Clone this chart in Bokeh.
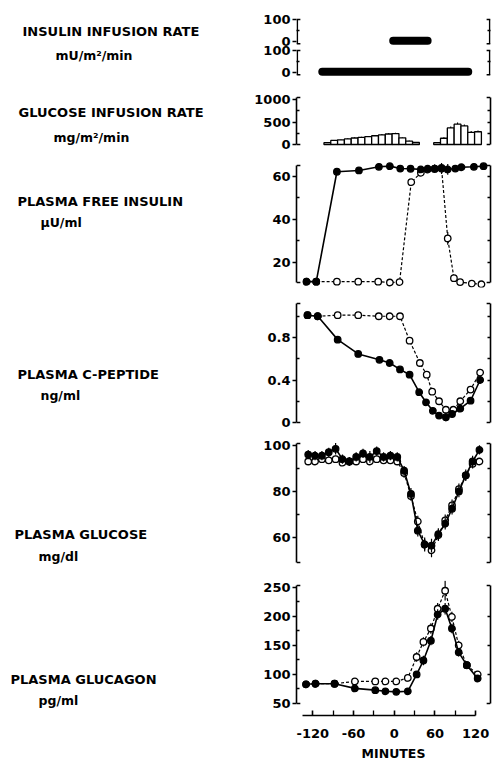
import numpy as np
from bokeh.plotting import figure
from bokeh.layouts import row, column
from bokeh.models import Range1d, LinearAxis, FixedTicker
from bokeh.embed import file_html
from bokeh.resources import INLINE
from bokeh.core.properties import value

FONT = "DejaVu Sans"

# ---------------- data ----------------
label_titles = ["INSULIN INFUSION RATE", "GLUCOSE INFUSION RATE", "PLASMA FREE INSULIN",
                "PLASMA C-PEPTIDE", "PLASMA GLUCOSE", "PLASMA GLUCAGON"]
label_units = ["mU/m²/min", "mg/m²/min", "µU/ml", "ng/ml", "mg/dl", "pg/ml"]

minutes_ticks = [-120, -60, 0, 60, 120]
minutes_minor = [-90, -30, 30, 90]
minutes_labels = ["-120", "-60", "0", "60", "120"]

# insulin infusion periods (minutes) and drawn level
ins_inf_study2 = [9, 59]
ins_inf_study1 = [-94, 118]
ins_inf_level = [3, 3]

# glucose infusion rate bars (mg/m2/min)
gir_t_a = [-89, -79, -69, -59, -49, -39, -29, -19, -9, 1, 11, 21, 31, 41]
gir_v_a = [40, 90, 105, 125, 145, 160, 175, 195, 215, 235, 245, 150, 75, 45]
gir_e_a = [10, 12, 12, 15, 15, 15, 15, 18, 18, 20, 20, 18, 12, 10]
gir_t_b = [72, 82, 92, 102, 112, 122, 132]
gir_v_b = [40, 140, 370, 455, 415, 270, 285]
gir_e_b = [10, 20, 30, 35, 30, 30, 25]

# plasma free insulin (uU/ml)
ins_t_f = [-121, -107, -77, -45, -16, 0, 15, 30, 45, 55, 65, 75, 84, 95, 104, 122, 136]
ins_v_f = [11.2, 11.2, 62.0, 62.6, 64.3, 64.6, 63.5, 63.4, 63.1, 63.4, 63.5, 63.8, 63.1, 63.5, 64.1, 64.3, 64.6]
ins_e_f = [0.5, 0.5, 1.5, 1.5, 1.5, 1.5, 1.5, 1.5, 1.5, 1.5, 2.0, 1.5, 2.5, 1.5, 1.5, 1.5, 1.5]
ins_t_o = [-121, -107, -77, -46, -17, 0, 14, 31, 45, 55, 65, 75, 84, 93, 102, 119, 133]
ins_v_o = [11.2, 11.2, 11.2, 11.2, 11.2, 10.8, 11.0, 57.2, 61.5, 63.0, 63.3, 63.5, 31.2, 12.8, 11.0, 10.3, 10.0]
ins_e_o = [0.5, 0.5, 0.8, 0.8, 0.8, 0.8, 0.8, 1.5, 1.5, 1.5, 1.5, 2.5, 3.0, 1.5, 1.0, 1.0, 1.0]

# plasma C-peptide (ng/ml)
cp_t_f = [-121, -106, -77, -47, -16, -1, 14, 28, 42, 52, 62, 71, 81, 90, 102, 117, 131]
cp_v_f = [1.01, 1.0, 0.78, 0.645, 0.59, 0.56, 0.50, 0.45, 0.285, 0.19, 0.11, 0.065, 0.05, 0.08, 0.13, 0.205, 0.40]
cp_e_f = [0.02, 0.02, 0.03, 0.03, 0.02, 0.02, 0.02, 0.03, 0.03, 0.03, 0.03, 0.03, 0.04, 0.03, 0.03, 0.03, 0.03]
cp_t_o = [-121, -106, -77, -47, -17, -1, 14, 28, 43, 53, 61, 71, 81, 92, 102, 117, 131]
cp_v_o = [1.01, 1.0, 1.01, 1.01, 1.0, 1.0, 1.0, 0.77, 0.56, 0.45, 0.29, 0.20, 0.12, 0.12, 0.20, 0.31, 0.47]
cp_e_o = [0.02, 0.02, 0.02, 0.02, 0.02, 0.02, 0.02, 0.03, 0.03, 0.03, 0.03, 0.03, 0.03, 0.03, 0.03, 0.03, 0.03]

# plasma glucose (mg/dl)
glu_t = [-120, -110, -100, -90, -80, -70, -60, -50, -40, -30, -20, -10, 0, 10,
         20, 30, 40, 50, 60, 70, 80, 90, 100, 110, 120, 130]
glu_v_f = [96, 95.5, 95.5, 97, 98.5, 94, 93, 95, 96.5, 95, 97.5, 95, 95.5, 95,
           89, 79, 63, 57, 56.5, 61.5, 66, 72.5, 80, 87, 93, 98]
glu_e_f = [2, 2, 2, 2, 2.5, 2, 2, 2, 2, 2.5, 2, 2, 2, 2,
           2, 2.5, 2.5, 3, 3, 2.5, 2.5, 2.5, 2.5, 2.5, 2.5, 2]
glu_v_o = [93, 93, 94, 93.5, 94, 92.5, 93, 93, 94, 93, 94, 93.5, 93.5, 93,
           88, 78, 67, 57, 54.5, 61, 67.5, 74, 81, 87, 92, 93]
glu_e_o = [1.5, 1.5, 1.5, 1.5, 1.5, 1.5, 1.5, 1.5, 1.5, 1.5, 1.5, 1.5, 1.5, 1.5,
           2, 2, 2.5, 2.5, 3, 2.5, 2.5, 2.5, 2.5, 2, 2, 1.5]

# plasma glucagon (pg/ml)
gcg_t = [-130, -116, -88, -58, -28, -13, 3, 20, 33, 43, 54, 64, 75, 85, 95, 107, 123]
gcg_v_f = [83, 84, 84, 76, 73, 71, 70, 71, 100, 124, 158, 203, 213, 179, 138, 116, 93]
gcg_e_f = [4, 4, 4, 5, 5, 5, 5, 5, 6, 8, 8, 9, 10, 8, 7, 6, 6]
gcg_v_o = [83, 84, 84, 88, 88, 88, 88, 94, 130, 156, 179, 213, 244, 199, 150, 116, 100]
gcg_e_o = [4, 4, 4, 5, 5, 5, 5, 6, 8, 8, 9, 10, 17, 9, 8, 7, 6]

# ---------------- geometry (page pixels) ----------------
X0 = 389.3      # page px of minute 0
PPM = 0.7097    # px per minute
COL_L = 248
COL_R = 499
PAGE_H = 763


def make_panel(fig_top, fig_bot, st, sb, vt, vb, L, R, pad_t, fb):
    k = (sb - st) / (vt - vb)
    ft = st - pad_t
    y_lo = vb - (fb - sb) / k
    y_hi = vt + pad_t / k
    p = figure(width=COL_R - COL_L, height=fig_bot - fig_top,
               x_range=Range1d((L - X0) / PPM, (R - X0) / PPM),
               y_range=Range1d(y_lo, y_hi),
               x_axis_type=None, y_axis_type=None,
               output_backend="svg", toolbar_location=None,
               min_border_left=int(L - COL_L), min_border_right=int(COL_R - R),
               min_border_top=int(ft - fig_top), min_border_bottom=int(fig_bot - fb))
    p.outline_line_color = None
    p.background_fill_color = "white"
    p.border_fill_color = "white"
    return p


def style_axis(ax):
    ax.axis_line_color = "black"
    ax.axis_line_width = 1.6
    ax.major_tick_line_color = "black"
    ax.major_tick_line_width = 1.6
    ax.minor_tick_line_color = "black"
    ax.minor_tick_line_width = 1.3
    ax.major_label_text_font = FONT
    ax.major_label_text_font_style = "bold"
    ax.major_label_text_font_size = "13px"
    ax.major_label_text_color = "black"


def add_frame(p, major, minor, rticks, spans, labels=None):
    single = len(spans) == 1
    ax = LinearAxis(ticker=FixedTicker(ticks=major, minor_ticks=minor))
    style_axis(ax)
    ax.major_tick_out = 4
    ax.major_tick_in = 0
    ax.minor_tick_out = 0
    ax.minor_tick_in = 3
    ax.major_label_standoff = 2
    if labels:
        ax.major_label_overrides = labels
    rx = LinearAxis(ticker=FixedTicker(ticks=rticks))
    style_axis(rx)
    rx.major_tick_out = 0
    rx.major_tick_in = 3
    rx.minor_tick_out = 0
    rx.minor_tick_in = 0
    rx.major_label_text_font_size = "0px"
    rx.major_label_text_color = None
    rx.major_label_standoff = 0
    if single:
        ax.bounds = spans[0]
        rx.bounds = spans[0]
    else:
        ax.axis_line_color = None
        rx.axis_line_color = None
    p.add_layout(ax, "left")
    p.add_layout(rx, "right")
    dx = 4 / PPM
    inset = 0.8 / PPM
    xa, xb = p.x_range.start, p.x_range.end
    for vb, vt in spans:
        p.segment(x0=[xa, xa, xb, xb], y0=[vb, vt, vb, vt],
                  x1=[xa + dx, xa + dx, xb - dx, xb - dx], y1=[vb, vt, vb, vt],
                  line_color="black", line_width=1.6)
        if not single:
            p.segment(x0=[xa + inset, xb - inset], y0=[vb, vb], x1=[xa + inset, xb - inset],
                      y1=[vt, vt], line_color="black", line_width=1.6)


def series(p, t, v, e, filled):
    t = np.array(t, float)
    v = np.array(v, float)
    e = np.array(e, float)
    if filled:
        p.line(t, v, line_color="black", line_width=1.6)
    else:
        p.line(t, v, line_color="black", line_width=1.2, line_dash="3 2")
    p.segment(x0=t, y0=v - e, x1=t, y1=v + e, line_color="black", line_width=1.2)
    p.scatter(t, v, size=6.5, marker="circle",
              fill_color="black" if filled else "white",
              line_color="black", line_width=1.3)


# panels A+B: insulin infusion rates (two studies), stacked in one canvas
OFF = 141   # vertical offset (rate units) of the upper strip
pAB = make_panel(0, 86, 19, 74.2, OFF + 100, -10, 296, 496, 4, 80)
add_frame(pAB, [0, 100, OFF, OFF + 100], [50, OFF + 50], [50, OFF + 50],
          [(-10, 100), (OFF - 10, OFF + 100)],
          labels={0: "0", 100: "100", OFF: "0", OFF + 100: "100"})
pAB.line(ins_inf_study2, [lv + OFF for lv in ins_inf_level], line_color="black",
         line_width=8, line_cap="round")
pAB.line(ins_inf_study1, ins_inf_level, line_color="black", line_width=8, line_cap="round")

# panel C: glucose infusion rate
pC = make_panel(86, 155, 97, 144, 1050, 0, 294, 496, 2, 146)
add_frame(pC, [0, 500, 1000], [250, 750], [250, 500, 750], [(0, 1050)])
for tt, vv, ee in [(gir_t_a, gir_v_a, gir_e_a), (gir_t_b, gir_v_b, gir_e_b)]:
    ta = np.array(tt, float)
    va = np.array(vv, float)
    ea = np.array(ee, float)
    pC.segment(x0=ta, y0=va, x1=ta, y1=va + ea, line_color="black", line_width=1.1)
    pC.vbar(x=ta, width=10, top=va, bottom=0, fill_color="white",
            line_color="black", line_width=1.3)

# panel D: plasma free insulin
pD = make_panel(155, 292, 165, 282, 64.9, 10.8, 293, 493, 5, 287)
add_frame(pD, [20, 40, 60], [30, 50], [20, 30, 40, 50, 60], [(10.8, 64.9)])
series(pD, ins_t_o, ins_v_o, ins_e_o, False)
series(pD, ins_t_f, ins_v_f, ins_e_f, True)

# panel E: C-peptide
pE = make_panel(292, 432, 303, 422, 1.12, 0, 292, 493, 5, 427)
add_frame(pE, [0, 0.4, 0.8], [0.2, 0.6, 1.0], [0.2, 0.4, 0.6, 0.8, 1.0], [(0, 1.12)],
          labels={0: "0", 0.4: "0.4", 0.8: "0.8"})
series(pE, cp_t_o, cp_v_o, cp_e_o, False)
series(pE, cp_t_f, cp_v_f, cp_e_f, True)

# panel F: glucose
pF = make_panel(432, 572, 443, 562, 100.8, 49.2, 292, 493, 5, 567)
add_frame(pF, [60, 80, 100], [70, 90], [60, 70, 80, 90], [(49.2, 100.8)])
series(pF, glu_t, glu_v_o, glu_e_o, False)
series(pF, glu_t, glu_v_f, glu_e_f, True)

# panel G: glucagon + time axis
pG = make_panel(572, PAGE_H, 585, 703, 253, 50, 287, 490, 5, 715)
add_frame(pG, [50, 100, 150, 200, 250], [75, 125, 175, 225], [100, 150, 200], [(50, 253)])
series(pG, gcg_t, gcg_v_o, gcg_e_o, False)
series(pG, gcg_t, gcg_v_f, gcg_e_f, True)
bx = LinearAxis(ticker=FixedTicker(ticks=minutes_ticks, minor_ticks=minutes_minor),
                bounds=(-135, 120), axis_label="MINUTES")
style_axis(bx)
bx.major_tick_in = 5
bx.major_tick_out = 0
bx.minor_tick_in = 5
bx.minor_tick_out = 0
bx.major_label_standoff = 13
bx.major_label_overrides = dict(zip(minutes_ticks, minutes_labels))
bx.axis_label_standoff = 5
bx.axis_label_text_font = FONT
bx.axis_label_text_font_style = "bold"
bx.axis_label_text_font_size = "12.5px"
bx.axis_label_text_color = "black"
pG.add_layout(bx, "below")

# left-hand text column (coordinates = page pixels)
pt = figure(width=COL_L, height=PAGE_H, x_range=Range1d(0, COL_L), y_range=Range1d(PAGE_H, 0),
            x_axis_type=None, y_axis_type=None, output_backend="svg", toolbar_location=None,
            min_border_left=0, min_border_right=0, min_border_top=0, min_border_bottom=0)
pt.outline_line_color = None
pt.text(x=[22, 18, 17, 17, 14, 10], y=[31, 112, 201, 374, 534, 679], text=label_titles,
        text_font=value(FONT), text_font_style="bold", text_font_size="13px",
        text_baseline="middle", text_align="left", text_color="black")
pt.text(x=[55, 53, 40, 40, 38, 38], y=[55, 137, 222, 395, 556, 700], text=label_units,
        text_font=value(FONT), text_font_style="bold", text_font_size="12.5px",
        text_baseline="middle", text_align="left", text_color="black")

layout = row(pt, column(pAB, pC, pD, pE, pF, pG))
open("out.html", "w").write(file_html(layout, INLINE))
